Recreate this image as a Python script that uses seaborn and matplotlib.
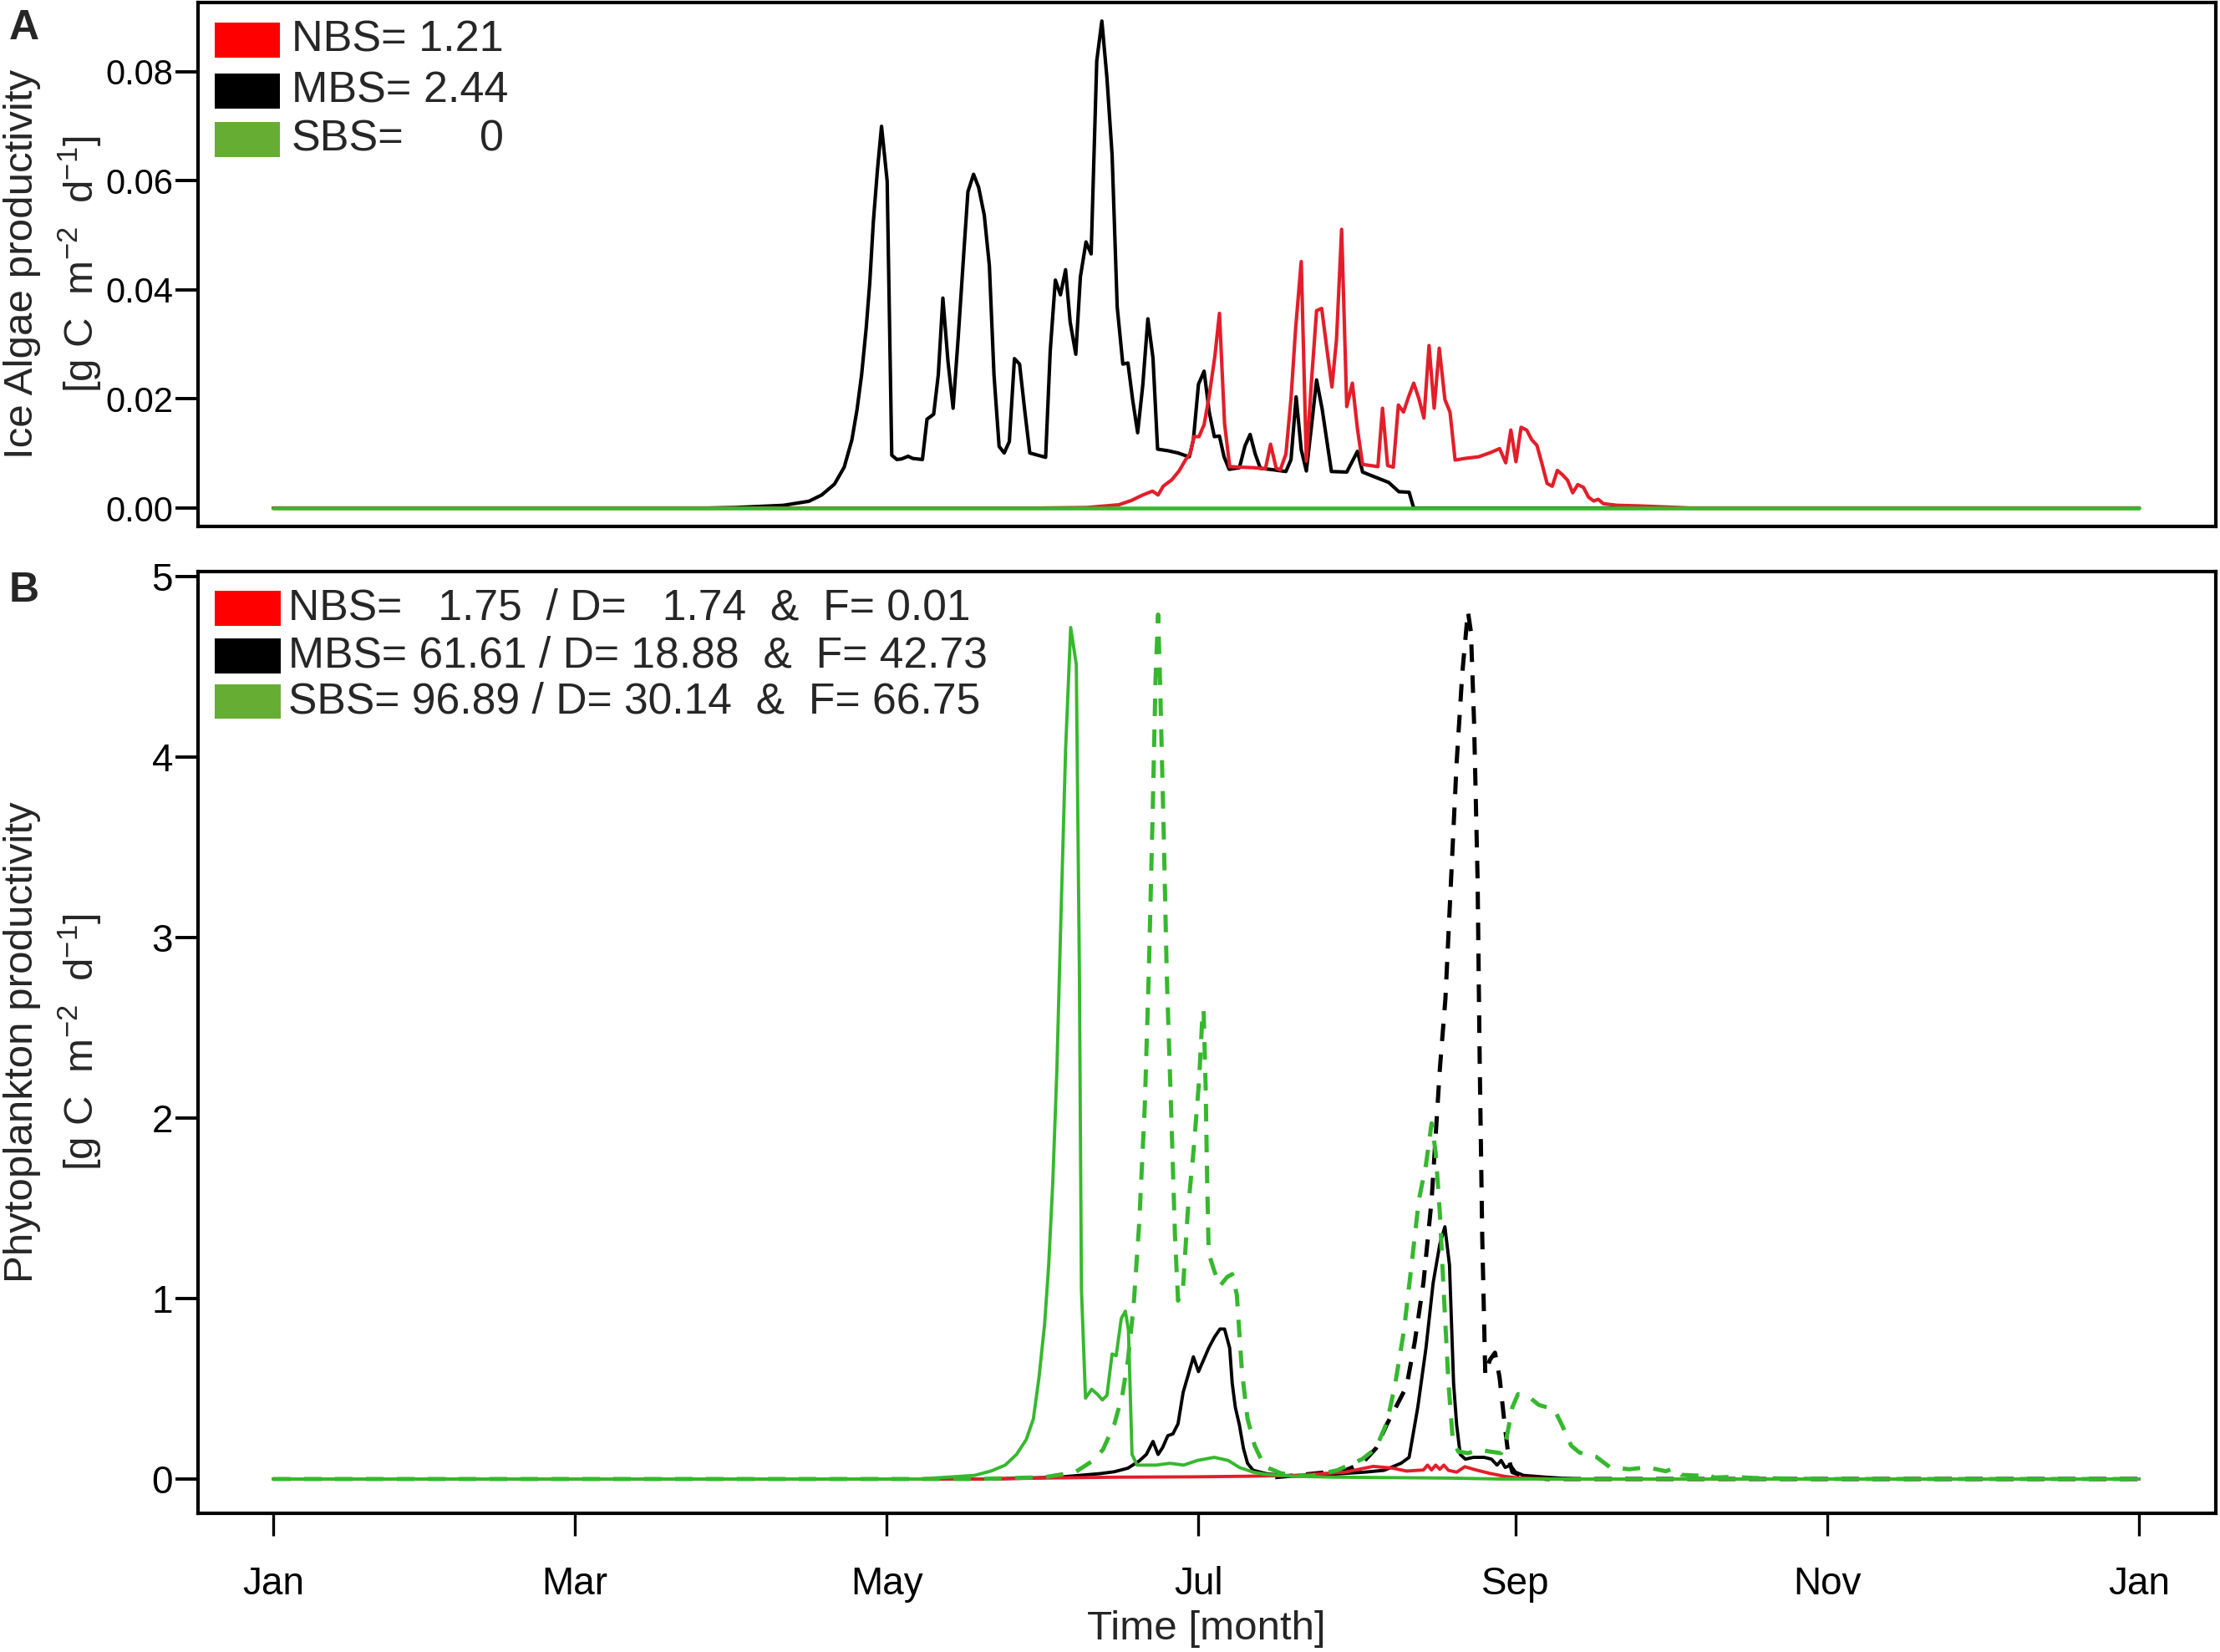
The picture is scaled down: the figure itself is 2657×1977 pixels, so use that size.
import matplotlib
matplotlib.use("Agg")
import matplotlib.pyplot as plt
from matplotlib.patches import Rectangle
import seaborn as sns

# ---------------- data (day of year, value) ----------------
month_ticks = [0, 59, 120, 181, 243, 304, 365]
month_labels = ["Jan", "Mar", "May", "Jul", "Sep", "Nov", "Jan"]

# Panel A: ice algae productivity
ice_mbs_day = [0, 85, 90.4, 99.8, 104.8, 107.3, 109.8, 111.7, 113.2, 114.2, 115.1, 116.0, 116.7, 117.4,
               118.2, 119.0, 120.1, 121.0, 122.0, 122.9, 124.2, 125.1, 127.0, 127.9, 129.2, 130.1, 131.0,
               132.0, 133.0, 134.0, 135.1, 135.9, 137.0, 138.0, 139.1, 140.1, 141.0, 142.0, 143.0, 144.0,
               145.0, 146.0, 147.0, 148.0, 151.1, 152.0, 153.0, 154.0, 155.0, 155.9, 157.0, 157.9, 159.0,
               160.0, 161.1, 162.1, 163.1, 164.1, 165.1, 166.2, 167.2, 168.1, 169.1, 170.1, 171.1, 172.1,
               173.0, 175.1, 177.0, 178.5, 179.2, 180.0, 181.0, 182.1, 183.1, 184.1, 185.1, 186.0, 187.0,
               189.0, 190.1, 191.1, 192.1, 193.1, 195.8, 198.1, 199.1, 200.1, 201.1, 202.1, 203.1, 204.1,
               205.2, 207.0, 210.0, 212.1, 213.1, 215.5, 218.2, 220.2, 222.2, 223.1, 365]
ice_mbs_val = [0, 0, 0.0001, 0.0005, 0.00125, 0.0024, 0.0044, 0.0075, 0.0125, 0.018, 0.0244, 0.033, 0.0413,
               0.0525, 0.062, 0.070, 0.060, 0.0097, 0.0089, 0.0090, 0.0095, 0.0091, 0.0089, 0.0163, 0.0172,
               0.0244, 0.0385, 0.0269, 0.0183, 0.0313, 0.0469, 0.058, 0.0612, 0.0588, 0.0537, 0.0444, 0.0244,
               0.0113, 0.0101, 0.0122, 0.0274, 0.0264, 0.018, 0.0101, 0.0093, 0.0288, 0.0418, 0.0391, 0.0437,
               0.0341, 0.0282, 0.0424, 0.0488, 0.0466, 0.082, 0.0893, 0.0788, 0.0648, 0.0369, 0.0264, 0.0266,
               0.020, 0.0138, 0.0225, 0.0347, 0.0275, 0.0108, 0.0105, 0.0101, 0.0096, 0.0094, 0.0125, 0.0227,
               0.0251, 0.0176, 0.0131, 0.0132, 0.0094, 0.0071, 0.0074, 0.0114, 0.0135, 0.0099, 0.0073, 0.0070,
               0.0067, 0.0089, 0.0204, 0.0107, 0.0068, 0.0150, 0.0235, 0.0181, 0.0067, 0.0066, 0.0104, 0.0066,
               0.0057, 0.0047, 0.0030, 0.0029, 0.0, 0]

ice_nbs_day = [0, 150, 159.2, 165.4, 167.9, 170.1, 172.0, 173.1, 174.1, 175.8, 177.2, 178.5, 179.4, 180.1,
               181.1, 182.1, 183.1, 184.2, 185.1, 186.1, 187.1, 189.0, 191.8, 194.1, 195.1, 196.2, 197.0,
               198.1, 199.1, 200.0, 201.1, 202.1, 203.1, 204.1, 205.1, 206.1, 207.1, 208.0, 209.0, 210.0,
               211.1, 212.1, 213.1, 216.1, 217.0, 218.0, 219.1, 220.1, 221.1, 222.1, 223.1, 224.1, 225.1,
               226.1, 227.1, 228.1, 229.2, 230.2, 231.2, 233.1, 235.8, 238.2, 239.9, 241.1, 242.1, 243.1,
               244.1, 245.2, 246.2, 247.2, 248.2, 249.2, 250.2, 251.2, 252.2, 253.2, 254.2, 255.2, 256.3,
               257.3, 258.3, 259.2, 260.2, 262.9, 267.0, 272.4, 277.1, 365]
ice_nbs_val = [0, 0, 0.0001, 0.0006, 0.0014, 0.0024, 0.0031, 0.0024, 0.0040, 0.0052, 0.0068, 0.0089, 0.0100,
               0.0131, 0.0131, 0.0153, 0.0206, 0.0278, 0.0357, 0.0155, 0.0076, 0.0075, 0.0074, 0.0072, 0.0117,
               0.0073, 0.0070, 0.0099, 0.0201, 0.0329, 0.0452, 0.0086, 0.0232, 0.0362, 0.0366, 0.0293, 0.0222,
               0.0309, 0.0511, 0.0186, 0.0229, 0.0145, 0.0080, 0.0076, 0.0183, 0.0078, 0.0075, 0.0189, 0.0176,
               0.0204, 0.0229, 0.0201, 0.0165, 0.0298, 0.0183, 0.0293, 0.0199, 0.0176, 0.0088, 0.0091, 0.0094,
               0.0102, 0.0109, 0.0083, 0.0143, 0.0085, 0.0148, 0.0143, 0.0125, 0.0115, 0.0081, 0.0045, 0.0040,
               0.0069, 0.0061, 0.0051, 0.0028, 0.0043, 0.0038, 0.0020, 0.0013, 0.0016, 0.0008, 0.0005, 0.0004,
               0.0002, 0.0, 0]

ice_sbs_day = [0, 365]
ice_sbs_val = [0, 0]

# Panel B: phytoplankton productivity
phy_nbs_day = [0, 140, 150, 165, 180, 190, 199.9, 209.7, 215.2, 219.0, 221.7, 225.0, 225.8, 226.6, 227.4,
               228.2, 229.0, 229.9, 231.5, 233.1, 235.3, 238.0, 240.8, 243.5, 250, 365]
phy_nbs_val = [0, 0, 0.005, 0.01, 0.012, 0.015, 0.02, 0.038, 0.07, 0.06, 0.044, 0.05, 0.077, 0.05, 0.077,
               0.054, 0.077, 0.048, 0.038, 0.068, 0.05, 0.031, 0.015, 0.006, 0, 0]

phy_mbs_day = [0, 140, 153.6, 161.8, 164.5, 167.2, 169.4, 170.8, 172.1, 173.1, 174.0, 175.0, 176.0, 177.0,
               178.0, 179.0, 180.0, 181.0, 182.0, 183.0, 184.1, 185.2, 186.1, 187.1, 187.6, 188.2, 189.0,
               189.8, 190.6, 191.7, 194.5, 199.9, 208.1, 213.5, 217.3, 220.6, 222.2, 223.9, 225.5, 226.9,
               228.2, 229.2, 230.1, 230.9, 231.5, 232.2, 233.2, 234.8, 236.9, 238.3, 239.4, 240.2, 241.0,
               242.0, 243.0, 244.6, 249.0, 254.4, 365]
phy_mbs_val = [0, 0, 0.01, 0.03, 0.04, 0.06, 0.10, 0.136, 0.208, 0.136, 0.175, 0.24, 0.25, 0.306, 0.48,
               0.578, 0.677, 0.595, 0.66, 0.726, 0.785, 0.831, 0.831, 0.726, 0.53, 0.398, 0.30, 0.169, 0.087,
               0.048, 0.028, 0.015, 0.028, 0.038, 0.048, 0.087, 0.12, 0.398, 0.726, 1.086, 1.30, 1.398, 1.185,
               0.53, 0.30, 0.136, 0.11, 0.12, 0.12, 0.11, 0.077, 0.103, 0.064, 0.077, 0.038, 0.02, 0.01, 0, 0]

phy_mbs_f_day = [196, 199.9, 206.4, 209.7, 213.0, 215.7, 217.9, 220.1, 221.7, 223.3, 225.0, 226.6, 227.4,
                 228.2, 229.3, 230.4, 231.5, 232.6, 233.7, 234.3, 234.9, 235.6, 236.0, 236.5, 237.1, 238.0,
                 239.0, 239.9, 240.9, 241.7, 242.4, 244.6, 249, 365]
phy_mbs_f_val = [0.01, 0.02, 0.038, 0.048, 0.087, 0.169, 0.306, 0.425, 0.513, 0.759, 1.086, 1.545, 1.906,
                 2.267, 2.66, 3.316, 3.971, 4.463, 4.807, 4.692, 4.2, 3.316, 2.332, 1.349, 0.578, 0.66, 0.70,
                 0.562, 0.30, 0.11, 0.038, 0.015, 0, 0]

phy_sbs_day = [0, 126.4, 137.2, 140.5, 143.2, 145.4, 147.3, 148.7, 149.8, 150.9, 151.7, 152.5, 153.3, 154.1,
               155.0, 156.0, 157.1, 157.7, 158.1, 158.9, 160.1, 161.2, 162.2, 163.1, 164.1, 164.9, 165.9,
               166.7, 167.3, 168.0, 169.0, 172.7, 175.4, 178.1, 180.8, 184.1, 186.8, 189.0, 191.7, 194.5,
               199.9, 208.1, 230, 240, 365]
phy_sbs_val = [0, 0, 0.02, 0.045, 0.077, 0.136, 0.218, 0.333, 0.562, 0.857, 1.185, 1.644, 2.267, 3.119,
               4.036, 4.718, 4.512, 2.824, 1.054, 0.448, 0.497, 0.47, 0.438, 0.464, 0.693, 0.683, 0.89, 0.93,
               0.825, 0.136, 0.077, 0.077, 0.087, 0.077, 0.103, 0.12, 0.103, 0.064, 0.038, 0.025, 0.015,
               0.01, 0.005, 0, 0]

phy_sbs_f_day = [0, 137.7, 150.9, 156.9, 160.1, 162.3, 164.5, 166.1, 167.2, 168.3, 169.4, 170.5, 171.3,
                 172.0, 172.6, 173.1, 173.5, 174.2, 174.8, 175.7, 176.4, 177.0, 178.0, 178.9, 180.0, 181.1,
                 181.7, 182.0, 182.4, 182.7, 183.0, 184.1, 185.2, 186.6, 187.6, 188.5, 189.5, 190.6, 192.0,
                 193.9, 197.2, 202.6, 208.1, 213.0, 215.7, 217.9, 219.5, 221.2, 222.8, 224.1, 225.5, 226.6,
                 227.4, 228.2, 229.0, 229.9, 230.7, 231.8, 233.7, 235.9, 238.0, 240.2, 241.3, 242.4, 243.5,
                 245.4, 247.6, 250.6, 252.2, 253.9, 255.5, 258.8, 261.5, 265.3, 268.8, 272.4, 274.0, 275.4,
                 278.4, 280.3, 281.9, 285.4, 289.3, 295.3, 303.4, 365]
phy_sbs_f_val = [0, 0, 0.01, 0.038, 0.097, 0.162, 0.30, 0.464, 0.66, 0.955, 1.414, 2.07, 2.824, 3.643, 4.43,
                 4.79, 4.40, 3.578, 2.79, 2.0, 1.349, 0.988, 1.07, 1.48, 1.808, 2.2, 2.53, 2.6, 2.17, 1.644,
                 1.25, 1.152, 1.07, 1.119, 1.135, 1.021, 0.595, 0.333, 0.185, 0.07, 0.031, 0.015, 0.048, 0.11,
                 0.169, 0.316, 0.53, 0.824, 1.217, 1.545, 1.742, 1.971, 1.808, 1.48, 1.021, 0.53, 0.234, 0.152,
                 0.143, 0.162, 0.152, 0.143, 0.234, 0.398, 0.47, 0.46, 0.41, 0.386, 0.293, 0.185, 0.147, 0.123,
                 0.065, 0.054, 0.065, 0.043, 0.059, 0.023, 0.019, 0.028, 0.008, 0.012, 0.006, 0.003, 0, 0]

legend_a = [("NBS= 1.21", None), ("MBS= 2.44", None), ("SBS=", "0")]
legend_b = ["NBS=   1.75  / D=   1.74  &  F= 0.01",
            "MBS= 61.61 / D= 18.88  &  F= 42.73",
            "SBS= 96.89 / D= 30.14  &  F= 66.75"]

# ---------------- style ----------------
sns.set_style("white")
plt.rcParams['font.family'] = ['Liberation Sans', 'DejaVu Sans']
plt.rcParams['mathtext.fontset'] = 'custom'
plt.rcParams['mathtext.rm'] = 'Liberation Sans'
plt.rcParams['mathtext.it'] = 'Liberation Sans:italic'
plt.rcParams['mathtext.bf'] = 'Liberation Sans:bold'

RED_LINE = '#E31E2A'
GREEN_LINE = '#36B82E'
RED_PATCH = '#FF0000'
GREEN_PATCH = '#66AD33'
BLACK = '#000000'

W, H = 2657, 1977
fig = plt.figure(figsize=(W / 100, H / 100), dpi=100)

def fx(px):
    return px / W

def fy(py):
    return 1 - py / H

axA = fig.add_axes([fx(237), fy(630), fx(2652) - fx(237), fy(3) - fy(630)])
axB = fig.add_axes([fx(237), fy(1811), fx(2652) - fx(237), fy(684) - fy(1811)])

LW = 3.0
LWD = 3.6

def draw(ax, x, y, color, dashed=False, lw=LW):
    sns.lineplot(x=x, y=y, ax=ax, color=color, linewidth=(LWD if dashed else lw),
                 estimator=None, sort=False)
    ln = ax.lines[-1]
    if dashed:
        ln.set_dashes([4.2, 3.2])
    ln.set_solid_joinstyle('round')
    ln.set_dash_capstyle('butt')

# Panel A
draw(axA, ice_mbs_day, ice_mbs_val, BLACK)
draw(axA, ice_nbs_day, ice_nbs_val, RED_LINE)
draw(axA, ice_sbs_day, ice_sbs_val, GREEN_LINE, lw=3.3)

# Panel B
draw(axB, phy_mbs_f_day, phy_mbs_f_val, BLACK, dashed=True)
draw(axB, phy_mbs_day, phy_mbs_val, BLACK, lw=2.8)
draw(axB, phy_nbs_day, phy_nbs_val, RED_LINE, lw=2.8)
draw(axB, phy_sbs_day, phy_sbs_val, GREEN_LINE, lw=2.8)
draw(axB, phy_sbs_f_day, phy_sbs_f_val, GREEN_LINE, dashed=True)

for ax in (axA, axB):
    ax.set_xlim(-14.7, 380)
    ax.set_xlabel("")
    ax.set_ylabel("")
    for sp in ax.spines.values():
        sp.set_visible(True)
        sp.set_linewidth(3.0)
        sp.set_color('black')
    ax.tick_params(axis='y', direction='out', length=19.5, width=2.8, pad=2, left=True, colors='black')
    ax.grid(False)

axA.set_ylim(-0.00337, 0.0927)
axA.set_yticks([0.00, 0.02, 0.04, 0.06, 0.08])
axA.set_yticklabels(["0.00", "0.02", "0.04", "0.06", "0.08"], fontsize=30)
axA.tick_params(axis='x', bottom=False, labelbottom=False)

axB.set_ylim(-0.19, 5.028)
axB.set_yticks([0, 1, 2, 3, 4, 5])
axB.set_yticklabels(["0", "1", "2", "3", "4", "5"], fontsize=33)
axB.set_xticks(month_ticks)
axB.set_xticklabels(month_labels, fontsize=33)
axB.tick_params(axis='x', direction='out', length=19.5, width=2.4, pad=26, bottom=True, colors='black')

# axis labels
fig.text(fx(27), fy(316), "Ice Algae productivity", rotation=90, ha='center', va='center', fontsize=35.5)
fig.text(fx(96), fy(316), r"[g C  m$^{-2}$  d$^{-1}$]", rotation=90, ha='center', va='center', fontsize=35.5)
fig.text(fx(27), fy(1247), "Phytoplankton productivity", rotation=90, ha='center', va='center', fontsize=35.5)
fig.text(fx(96), fy(1247), r"[g C  m$^{-2}$  d$^{-1}$]", rotation=90, ha='center', va='center', fontsize=35.5)
fig.text(fx(1444), fy(1950), "Time [month]", ha='center', va='center', fontsize=35.5)

fig.text(fx(11), fy(47), "A", ha='left', va='baseline', fontsize=36, fontweight='bold')
fig.text(fx(11), fy(720), "B", ha='left', va='baseline', fontsize=36, fontweight='bold')

# legends
patch_colors = [RED_PATCH, BLACK, GREEN_PATCH]
rowsA = [(27, 69), (88, 130), (146, 188)]
for (lab, num), col, (t, b) in zip(legend_a, patch_colors, rowsA):
    fig.patches.append(Rectangle((fx(257), fy(b)), fx(335) - fx(257), fy(t) - fy(b),
                                 transform=fig.transFigure, facecolor=col, edgecolor='none'))
    fig.text(fx(349), fy((t + b) / 2), lab, ha='left', va='center', fontsize=37.5)
    if num is not None:
        fig.text(fx(603), fy((t + b) / 2), num, ha='right', va='center', fontsize=37.5)

rowsB = [(707, 749), (764, 806), (819, 860)]
for lab, col, (t, b) in zip(legend_b, patch_colors, rowsB):
    fig.patches.append(Rectangle((fx(257), fy(b)), fx(336) - fx(257), fy(t) - fy(b),
                                 transform=fig.transFigure, facecolor=col, edgecolor='none'))
    fig.text(fx(345), fy((t + b) / 2), lab, ha='left', va='center', fontsize=37.2)

fig.savefig("out.png", dpi=100)
